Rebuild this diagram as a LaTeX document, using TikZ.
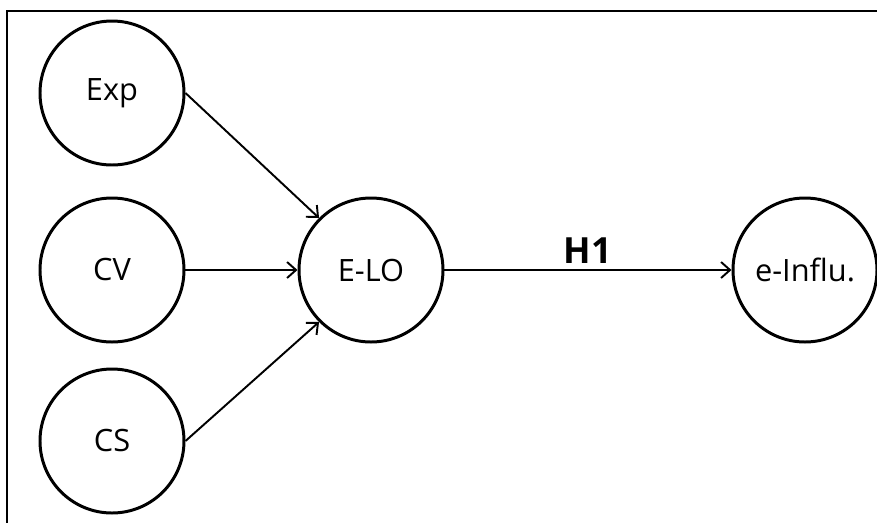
\documentclass[tikz,border=0pt]{standalone}
\usepackage{fontspec}
\setmainfont{Open Sans}
\usetikzlibrary{arrows.meta}

\tikzstyle{latent}=[circle, minimum size = 2.88cm, inner sep = 0pt, draw=black, line width = 1.7pt, fill = white, font = \fontsize{17.5}{21}\selectfont]
\tikzstyle{arrow1} = [line width = 1.1pt,->,>={Straight Barb[length=0.18cm,width=0.32cm]}]

\begin{document}
\begin{tikzpicture}[node distance = 3.5cm]
\useasboundingbox (-2.24,-5.04) rectangle (15.3,5.4);
\draw[line width = 1.1pt] (-2.1,-5.1) |- (15.4,5.18);
\node (cv) [latent] {CV};
\node (exp) [latent, above of = cv, yshift = 0.04cm] {Exp};
\node (cs) [latent, below of = cv, yshift = 0.08cm] {CS};
\node (elo) [latent, right of = cv, xshift = 1.68cm] {E-LO};
\node (influ) [latent, right of = elo, xshift = 5.18cm] {e-Influ.};
\draw[arrow1](exp.east)--(elo.135);
\draw[arrow1](cv)--(elo);
\draw[arrow1](cs.east)--(elo.225);
\draw[arrow1](elo)--(influ) node[midway, above, font = \fontsize{20.5}{24}\selectfont\bfseries]{H1};
\end{tikzpicture}
\end{document}
